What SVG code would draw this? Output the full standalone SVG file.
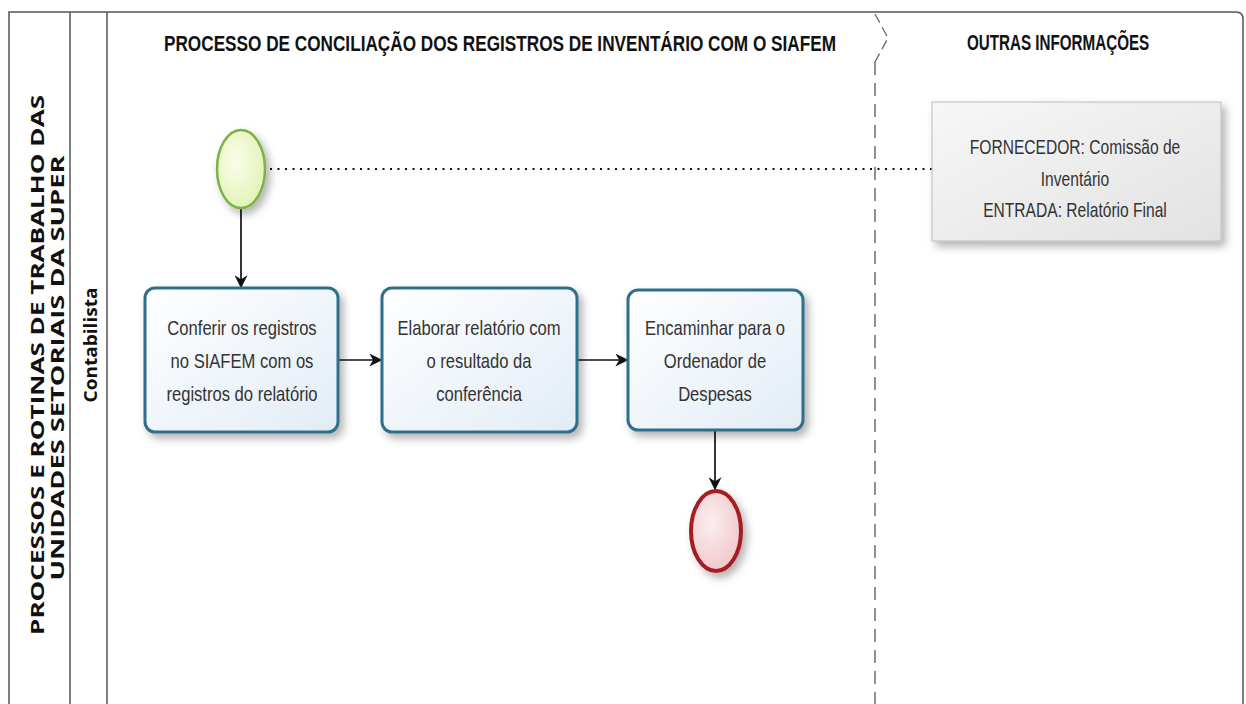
<svg xmlns="http://www.w3.org/2000/svg" width="1246" height="704" viewBox="0 0 1246 704">
<defs>
<style>
.frame{fill:none;stroke:#555;stroke-width:1.5}
.hdr{font-family:"Liberation Sans",Arial,sans-serif;font-weight:bold;font-size:22px;fill:#111}
.vt{font-family:"Open Sans","Liberation Sans",Arial,sans-serif;font-weight:bold;font-size:17px;fill:#111;text-anchor:middle}
.lbl{font-family:"Liberation Sans",Arial,sans-serif;font-size:20px;fill:#333;text-anchor:middle}
.inf{font-family:"Liberation Sans",Arial,sans-serif;font-size:20px;fill:#333;text-anchor:middle}
.task{fill:url(#gTask);stroke:#2f6f8c;stroke-width:3}
.flow{fill:none;stroke:#111;stroke-width:1.7}
</style>
<linearGradient id="gTask" x1="0" y1="0" x2="1" y2="1"><stop offset="0" stop-color="#ffffff"/><stop offset="1" stop-color="#e2ecf6"/></linearGradient>
<radialGradient id="gStart" cx="0.4" cy="0.4" r="0.7"><stop offset="0" stop-color="#fbfde8"/><stop offset="1" stop-color="#def2b4"/></radialGradient>
<radialGradient id="gEnd" cx="0.4" cy="0.4" r="0.7"><stop offset="0" stop-color="#fbeef0"/><stop offset="1" stop-color="#f0c4c8"/></radialGradient>
<linearGradient id="gInfo" x1="0" y1="0" x2="1" y2="1"><stop offset="0" stop-color="#f7f7f7"/><stop offset="1" stop-color="#e2e2e2"/></linearGradient>
<filter id="sh" x="-20%" y="-20%" width="150%" height="150%"><feDropShadow dx="4" dy="5" stdDeviation="4" flood-color="#000" flood-opacity="0.3"/></filter>
<marker id="arr" viewBox="0 0 10 10" refX="9" refY="5" markerWidth="13" markerHeight="13" orient="auto" markerUnits="userSpaceOnUse"><path d="M0,0 L10,5 L0,10 L3,5 z" fill="#111"/></marker>
</defs>
<rect width="1246" height="704" fill="#fff"/>

<g id="pool">
<path class="frame" d="M9,704 V12 H1236 Q1243,12 1243,19 V704"/>
<line class="frame" x1="70" y1="12" x2="70" y2="704"/>
<line class="frame" x1="107" y1="12" x2="107" y2="704"/>
<path d="M875,14 L888,38 L875,62" fill="none" stroke="#666" stroke-width="1.3" stroke-dasharray="10,5"/>
<line x1="875" y1="62" x2="875" y2="704" stroke="#555" stroke-width="1.3" stroke-dasharray="13,8"/>
<text class="vt" transform="translate(44,365) rotate(-90)" textLength="540" lengthAdjust="spacingAndGlyphs">PROCESSOS E ROTINAS DE TRABALHO DAS</text>
<text class="vt" transform="translate(64,368) rotate(-90)" textLength="425" lengthAdjust="spacingAndGlyphs">UNIDADES SETORIAIS DA SUPER</text>
<text class="vt" transform="translate(97,345) rotate(-90)" font-size="16" textLength="115" lengthAdjust="spacingAndGlyphs">Contabilista</text>
<text class="hdr" transform="translate(164,51) scale(0.75,1)" textLength="896" lengthAdjust="spacingAndGlyphs">PROCESSO DE CONCILIAÇÃO DOS REGISTROS DE INVENTÁRIO COM O SIAFEM</text>
<text class="hdr" transform="translate(967,50) scale(0.75,1)" textLength="243" lengthAdjust="spacingAndGlyphs">OUTRAS INFORMAÇÕES</text>
</g>

<g id="connectors">
<line x1="270" y1="169" x2="932" y2="169" stroke="#111" stroke-width="2.2" stroke-dasharray="2,5.5"/>
<line class="flow" x1="241" y1="209" x2="241" y2="287" marker-end="url(#arr)"/>
<line class="flow" x1="339" y1="360" x2="381" y2="360" marker-end="url(#arr)"/>
<line class="flow" x1="578" y1="360" x2="627" y2="360" marker-end="url(#arr)"/>
<line class="flow" x1="715" y1="431" x2="715" y2="489" marker-end="url(#arr)"/>
</g>

<g id="start">
<ellipse cx="241" cy="169" rx="24" ry="39" fill="url(#gStart)" stroke="#7cb342" stroke-width="2.5" filter="url(#sh)"/>
</g>

<g id="task1">
<rect class="task" x="145" y="288" width="193" height="144" rx="10" filter="url(#sh)"/>
<text class="lbl" transform="translate(242,335) scale(0.83,1)">Conferir os registros</text>
<text class="lbl" transform="translate(242,368) scale(0.83,1)">no SIAFEM com os</text>
<text class="lbl" transform="translate(242,401) scale(0.83,1)">registros do relatório</text>
</g>

<g id="task2">
<rect class="task" x="382" y="288" width="195" height="144" rx="10" filter="url(#sh)"/>
<text class="lbl" transform="translate(479,335) scale(0.83,1)">Elaborar relatório com</text>
<text class="lbl" transform="translate(479,368) scale(0.83,1)">o resultado da</text>
<text class="lbl" transform="translate(479,401) scale(0.83,1)">conferência</text>
</g>

<g id="task3">
<rect class="task" x="628" y="290" width="175" height="140" rx="10" filter="url(#sh)"/>
<text class="lbl" transform="translate(715,335) scale(0.83,1)">Encaminhar para o</text>
<text class="lbl" transform="translate(715,368) scale(0.83,1)">Ordenador de</text>
<text class="lbl" transform="translate(715,401) scale(0.83,1)">Despesas</text>
</g>

<g id="end">
<ellipse cx="716" cy="531" rx="25" ry="40" fill="url(#gEnd)" stroke="#a51c24" stroke-width="4" filter="url(#sh)"/>
</g>

<g id="info">
<rect x="932" y="102" width="289" height="139" fill="url(#gInfo)" stroke="#bbb" stroke-width="1" filter="url(#sh)"/>
<text class="inf" transform="translate(1075,154) scale(0.78,1)">FORNECEDOR: Comissão de</text>
<text class="inf" transform="translate(1075,186) scale(0.78,1)">Inventário</text>
<text class="inf" transform="translate(1075,217) scale(0.78,1)">ENTRADA: Relatório Final</text>
</g>
</svg>
